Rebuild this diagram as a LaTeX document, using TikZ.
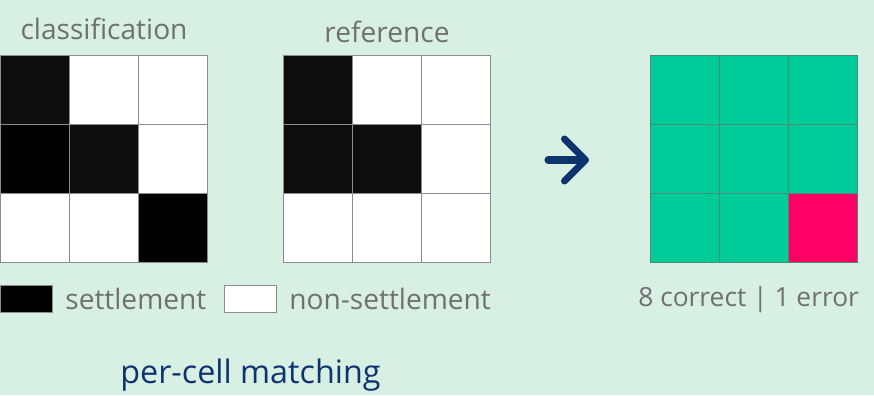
\documentclass[tikz,border=0pt]{standalone}
\usepackage{fontspec}
\setmainfont{Open Sans}
\usetikzlibrary{arrows.meta,positioning}
\definecolor{bgMint}{RGB}{216,240,228}
\definecolor{labelGray}{RGB}{112,112,112}
\definecolor{navyBlue}{RGB}{14,52,112}
\definecolor{okGreen}{RGB}{0,204,153}
\definecolor{errPink}{RGB}{255,0,102}
\definecolor{cellLine}{RGB}{140,140,140}
\definecolor{resLine}{RGB}{72,140,116}
\definecolor{cellBlack}{RGB}{13,13,13}

\begin{document}
\begin{tikzpicture}[
    x=0.02cm, y=-0.02cm,
    cell/.style={rectangle, minimum size=1.38cm, inner sep=0pt, outer sep=0pt},
    edge/.style={draw=cellLine, line width=0.5pt},
    lbl/.style={text=labelGray, font=\fontsize{16}{19}\selectfont, inner sep=0pt},
    key/.style={rectangle, draw=cellLine, line width=0.5pt, minimum width=1.04cm, minimum height=0.54cm, inner sep=0pt},
    arrow/.style={-{Straight Barb[round, length=0.42cm, width=0.84cm]}, draw=navyBlue, line width=4pt, line cap=round}
]

    % background
    \fill[bgMint] (0,0) rectangle (874,395);
    \useasboundingbox (0,0) rectangle (874,395);

    % classification grid
    \foreach \f [count=\k from 0] in {cellBlack,white,white,black,cellBlack,white,white,white,black}{
        \pgfmathtruncatemacro\r{\k/3}
        \pgfmathtruncatemacro\c{mod(\k,3)}
        \node[cell, fill=\f] (cls-\k) at (34.5+69*\c, 89.5+69*\r) {};
    }
    \node[lbl, anchor=base] (clsTitle) at (104,40) {classification};

    % reference grid
    \foreach \f [count=\k from 0] in {cellBlack,white,white,cellBlack,cellBlack,white,white,white,white}{
        \pgfmathtruncatemacro\r{\k/3}
        \pgfmathtruncatemacro\c{mod(\k,3)}
        \node[cell, fill=\f] (ref-\k) at (317.5+69*\c, 89.5+69*\r) {};
    }
    \node[lbl, anchor=base] (refTitle) at (387,43) {reference};

    % result grid
    \foreach \f [count=\k from 0] in {okGreen,okGreen,okGreen,okGreen,okGreen,okGreen,okGreen,okGreen,errPink}{
        \pgfmathtruncatemacro\r{\k/3}
        \pgfmathtruncatemacro\c{mod(\k,3)}
        \node[cell, fill=\f] (res-\k) at (684.5+69*\c, 89.5+69*\r) {};
    }

    % cell borders on top
    \foreach \k in {0,...,8}{
        \draw[edge] (cls-\k.south west) rectangle (cls-\k.north east);
        \draw[edge] (ref-\k.south west) rectangle (ref-\k.north east);
        \draw[edge, draw=resLine] (res-\k.south west) rectangle (res-\k.north east);
    }

    % arrow
    \coordinate (arrTail) at (548,160);
    \coordinate (arrHead) at (589,160);
    \draw[arrow] (arrTail) -- (arrHead);

    % legend
    \node[key, fill=black] (keySettle) at (26,298.5) {};
    \node[lbl, anchor=base west] (txtSettle) at (65,309) {settlement};
    \node[key, fill=white] (keyNon) at (250,298.5) {};
    \node[lbl, anchor=base west] (txtNon) at (289,309) {non-settlement};

    \node[lbl, font=\fontsize{15}{18}\selectfont, anchor=base west] (score) at (638,306) {8 correct | 1 error};

    \node[lbl, text=navyBlue, font=\fontsize{18.4}{22}\selectfont, anchor=base west] (caption) at (120,383) {per-cell matching};

\end{tikzpicture}
\end{document}
